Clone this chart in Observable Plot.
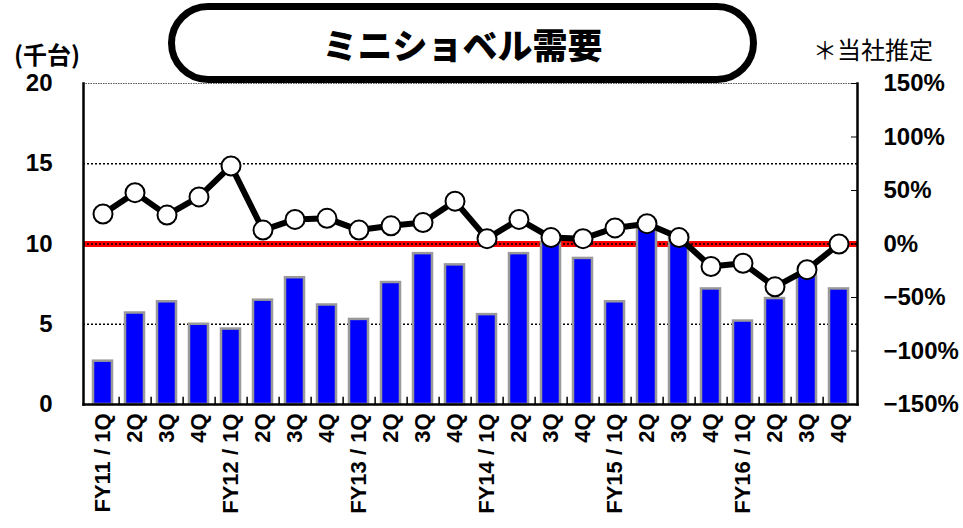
<!DOCTYPE html>
<html>
<head>
<meta charset="utf-8">
<script src="https://cdn.jsdelivr.net/npm/d3@7"></script>
<script src="https://cdn.jsdelivr.net/npm/@observablehq/plot@0.6"></script>
<style>
  html, body { margin: 0; padding: 0; background: #fff; }
  #wrap { position: relative; width: 963px; height: 528px; overflow: hidden; }
  #chart { position: absolute; left: 0; top: 0; }
  .titlebox {
    position: absolute; left: 168px; top: 3px; width: 589px; height: 80px;
    box-sizing: border-box; border: 7px solid #000; border-radius: 40px; background: #fff;
    display: flex; align-items: center; justify-content: center;
    font-family: "Noto Sans CJK JP", sans-serif; font-weight: 900; font-size: 35px; color: #000;
  }
  .unit { position: absolute; left: 14px; top: 39px; font-family: "Noto Sans CJK JP", sans-serif; font-weight: 700; font-size: 24px; line-height: 30px; }
  .note { position: absolute; left: 813px; top: 33px; font-family: "Noto Sans CJK JP", sans-serif; font-weight: 400; font-size: 24px; line-height: 32px; }
</style>
</head>
<body>
<div id="wrap">
  <div id="chart"></div>
  <div class="titlebox">ミニショベル需要</div>
  <div class="unit">(千台)</div>
  <div class="note">＊当社推定</div>
</div>
<script>
// Categories (quarters)
const quarters = ["FY11 / 1Q","2Q","3Q","4Q","FY12 / 1Q","2Q","3Q","4Q","FY13 / 1Q","2Q","3Q","4Q",
                  "FY14 / 1Q","2Q","3Q","4Q","FY15 / 1Q","2Q","3Q","4Q","FY16 / 1Q","2Q","3Q","4Q"];
// Demand (thousand units), left axis
const demand = [2.7,5.7,6.4,5.0,4.7,6.5,7.9,6.2,5.3,7.6,9.4,8.7,
                5.6,9.4,10.1,9.1,6.4,11.0,10.6,7.2,5.2,6.6,8.0,7.2];
// Year-over-year change (%), right axis
const yoy = [28,48,27,44,73,13,23,24,13,17,20,40,
             5,23,6,5,15,19,6,-21,-18,-40,-24,0];
// Axis tick values
const leftTicks = [0,5,10,15,20];
const rightTicks = [150,100,50,0,-50,-100,-150];
const rightTickLabels = ["150%","100%","50%","0%","−50%","−100%","−150%"];
const leftMax = 20, rightMin = -150, rightMax = 150;

const toLeft = p => (p - rightMin) / (rightMax - rightMin) * leftMax;
const rightLabelByPos = new Map(rightTicks.map((p, i) => [toLeft(p), rightTickLabels[i]]));

const idx = quarters.map((_, i) => i);
const rows = idx.map(i => ({i, demand: demand[i], yoy: yoy[i], yoyPos: toLeft(yoy[i])}));

const numFont = "Liberation Sans, Arial, Noto Sans CJK JP, sans-serif";

const chart = Plot.plot({
  width: 963,
  height: 528,
  marginLeft: 83,
  marginRight: 106,
  marginTop: 83,
  marginBottom: 124,
  style: {background: "transparent", overflow: "visible"},
  x: {type: "band", domain: idx, paddingInner: 0.41, paddingOuter: 0.205, axis: null, label: null},
  y: {domain: [0, leftMax], axis: null, label: null},
  marks: [
    Plot.ruleY([5, 15], {stroke: "#000", strokeWidth: 1.5, strokeDasharray: "2,2"}),
    Plot.ruleY([leftMax], {stroke: "#555", strokeWidth: 1.2, strokeDasharray: "1.5,1"}),
    Plot.ruleY([10], {stroke: "#ff0000", strokeWidth: 6}),
    Plot.ruleY([10], {stroke: "#000", strokeWidth: 1.5, strokeDasharray: "2,2"}),
    Plot.barY(rows, {x: "i", y: "demand", fill: "#0000ff", stroke: "#999", strokeWidth: 2.5}),
    Plot.ruleX(idx.slice(0, -1), {x: d => d, y1: 0, y2: 0.45, dx: 16.125, stroke: "#000", strokeWidth: 1.5}),
    Plot.lineY(rows, {x: "i", y: "yoyPos", stroke: "#000", strokeWidth: 6}),
    Plot.dot(rows, {x: "i", y: "yoyPos", r: 9.5, fill: "#fff", stroke: "#000", strokeWidth: 2}),
    Plot.frame({anchor: "left", stroke: "#000", strokeWidth: 2.5}),
    Plot.frame({anchor: "right", stroke: "#000", strokeWidth: 2.5}),
    Plot.frame({anchor: "bottom", stroke: "#000", strokeWidth: 2.5}),
    Plot.axisY({anchor: "left", ticks: leftTicks, tickSize: 0, tickPadding: 31, label: null,
      fontSize: 24, fontWeight: "bold", fontFamily: numFont}),
    Plot.axisY({anchor: "right", ticks: rightTicks.map(toLeft), tickSize: -7, tickPadding: 33, label: null,
      tickFormat: d => rightLabelByPos.get(d), fontSize: 24, fontWeight: "bold", fontFamily: numFont}),
    Plot.axisX({anchor: "bottom", tickSize: 0, tickPadding: 9, tickRotate: -90, label: null,
      tickFormat: i => quarters[i], fontSize: 22, fontWeight: "bold", fontFamily: numFont})
  ]
});
document.getElementById("chart").appendChild(chart);
</script>
</body>
</html>
